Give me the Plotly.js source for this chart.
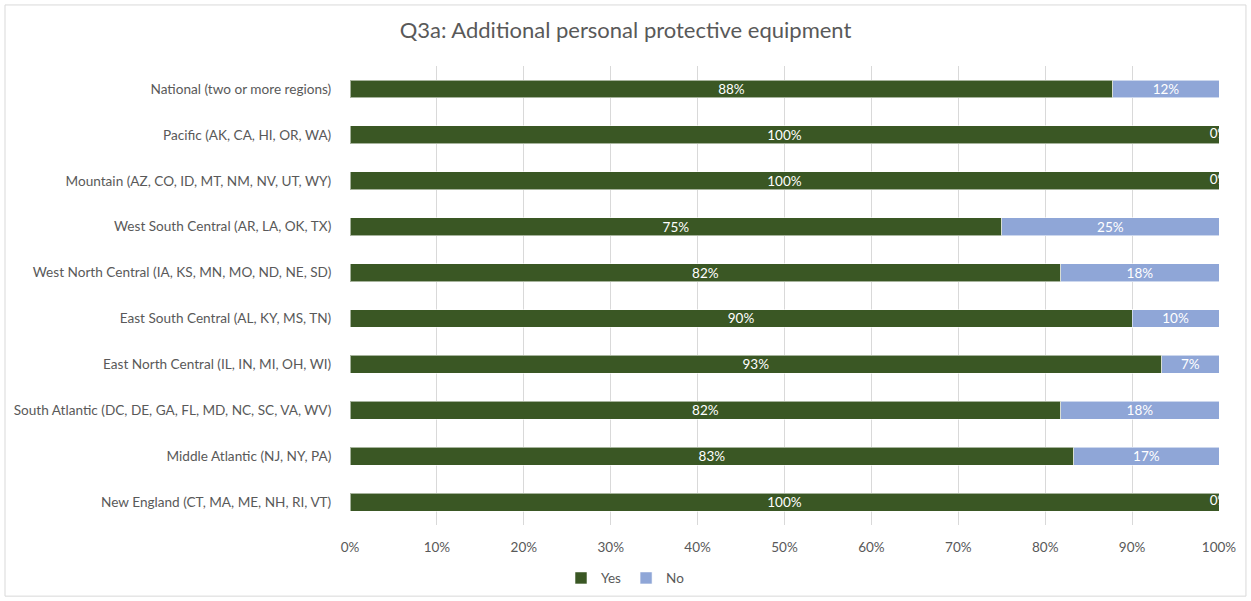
<!DOCTYPE html>
<html>
<head>
<meta charset="utf-8">
<script src="https://cdn.plot.ly/plotly-3.0.1.min.js"></script>
<style>html,body{margin:0;padding:0;background:#fff;}#chart{width:1251px;height:601px;}</style>
</head>
<body>
<div id="chart"></div>
<script>
var categories = [
  "National (two or more regions)",
  "Pacific (AK, CA, HI, OR, WA)",
  "Mountain (AZ, CO, ID, MT, NM, NV, UT, WY)",
  "West South Central (AR, LA, OK, TX)",
  "West North Central (IA, KS, MN, MO, ND, NE, SD)",
  "East South Central (AL, KY, MS, TN)",
  "East North Central (IL, IN, MI, OH, WI)",
  "South Atlantic (DC, DE, GA, FL, MD, NC, SC, VA, WV)",
  "Middle Atlantic (NJ, NY, PA)",
  "New England (CT, MA, ME, NH, RI, VT)"
];
var yesValues = [87.8, 100, 100, 75, 81.8, 90, 93.4, 81.8, 83.3, 100];
var noValues  = [12.2, 0, 0, 25, 18.2, 10, 6.6, 18.2, 16.7, 0];
var xTickValues = [0,10,20,30,40,50,60,70,80,90,100];
var xTickLabels = ["0%","10%","20%","30%","40%","50%","60%","70%","80%","90%","100%"];

var FONT = "Lato, 'Open Sans', sans-serif";
var GREEN = "#3A5724";
var BLUE = "#8FA6D7";

var zeroCenters = yesValues.map(function(v,i){ return v + noValues[i]/2; });
var zeroLabels = noValues.map(function(v){ return v === 0 ? "0%" : ""; });

var traces = [
  {
    type: "bar", orientation: "h", name: "Yes",
    y: categories, x: yesValues,
    marker: {color: GREEN, line: {color: "rgba(255,255,255,0.55)", width: 1}},
    texttemplate: "%{x:.0f}%", textposition: "inside", insidetextanchor: "middle",
    constraintext: "none",
    textfont: {color: "#ffffff", size: 13.5, family: FONT},
    hoverinfo: "x+y"
  },
  {
    type: "bar", orientation: "h", name: "No",
    y: categories, x: noValues,
    marker: {color: BLUE, line: {color: "rgba(255,255,255,0.55)", width: 1}},
    texttemplate: "%{x:.0f}%", textposition: "inside", insidetextanchor: "middle",
    constraintext: "none",
    textfont: {color: "#ffffff", size: 13.5, family: FONT},
    hoverinfo: "x+y"
  },
  {
    type: "scatter", mode: "text", showlegend: false,
    y: categories, x: zeroCenters, text: zeroLabels,
    textposition: "middle center",
    textfont: {color: "#ffffff", size: 13.5, family: FONT},
    cliponaxis: true, hoverinfo: "skip"
  }
];

var layout = {
  width: 1251, height: 601,
  paper_bgcolor: "#ffffff", plot_bgcolor: "#ffffff",
  margin: {l: 350, r: 32, t: 66, b: 76, pad: 0},
  barmode: "stack", bargap: 0.61,
  font: {family: FONT, color: "#595959", size: 13.5},
  title: {text: "Q3a: Additional personal protective equipment",
          font: {family: FONT, size: 22, color: "#595959"},
          x: 0.5, xref: "container", xanchor: "center", y: 0.95, yanchor: "middle"},
  xaxis: {range: [0, 100], tickvals: xTickValues, ticktext: xTickLabels,
          showgrid: true, gridcolor: "#D9D9D9", gridwidth: 1,
          zeroline: false, showline: false,
          ticks: "outside", ticklen: 10, tickcolor: "rgba(0,0,0,0)",
          tickfont: {size: 13.5, color: "#595959", family: FONT}, fixedrange: true},
  yaxis: {autorange: "reversed", showgrid: false, zeroline: false, showline: false,
          ticks: "outside", ticklen: 15, tickcolor: "rgba(0,0,0,0)",
          tickfont: {size: 13.6, color: "#595959", family: FONT}, fixedrange: true},
  legend: {orientation: "h", xref: "container", yref: "container",
           x: 0.5, xanchor: "center", y: 0.038, yanchor: "middle",
           font: {size: 13.5, color: "#595959", family: FONT},
           itemwidth: 30, traceorder: "normal"},
  shapes: [{type: "rect", xref: "paper", yref: "paper",
            x0: -0.397, x1: 1.031, y0: -0.155, y1: 1.133,
            line: {color: "#D9D9D9", width: 1}, fillcolor: "rgba(0,0,0,0)", layer: "below"}]
};

Plotly.newPlot("chart", traces, layout, {displayModeBar: false, staticPlot: true});
</script>
</body>
</html>
